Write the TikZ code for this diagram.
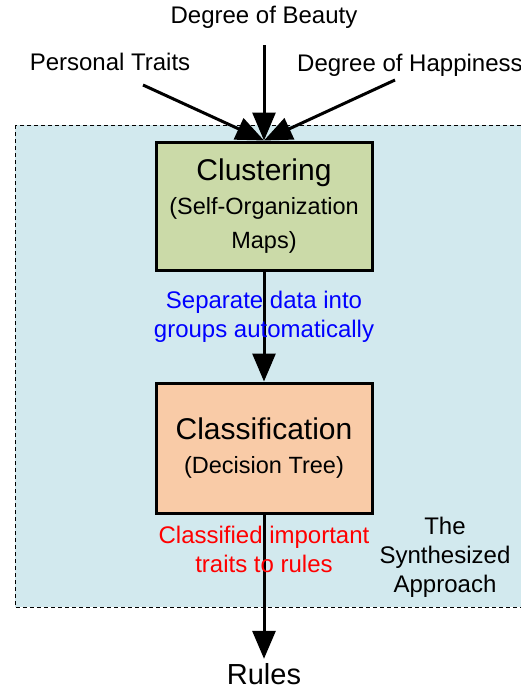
\documentclass[tikz,border=0pt]{standalone}
\usepackage{fontspec}
\setmainfont{Liberation Sans}
\usetikzlibrary{arrows.meta}
\definecolor{bgblue}{RGB}{210,233,238}
\definecolor{clugreen}{RGB}{203,218,168}
\definecolor{claorange}{RGB}{249,203,167}
\tikzset{
  method/.style={
    rectangle,
    minimum width=216pt,
    minimum height=128pt,
    align=center,
    draw=black,
    line width=3pt,
    font=\fontsize{23.5}{34}\selectfont
    },
  lbl/.style={
    align=center,
    inner sep=0pt,
    font=\fontsize{24}{29}\selectfont
    },
  arrow/.style={line width=3pt,-{Triangle[length=28pt,width=23pt]}},
}
\begin{document}
\begin{tikzpicture}[x=1pt, y=-1pt]
  \useasboundingbox (0,0) rectangle (520,688);

  % the dashed region
  \draw[fill=bgblue, dashed, dash pattern=on 4pt off 3pt, line width=0.8pt]
    (15,125) rectangle (535,607);

  \node[method, fill=clugreen] (clu) at (264,206)
    {{\fontsize{30}{34}\selectfont Clustering}\\(Self-Organization\\Maps)};
  \node[method, fill=claorange, minimum height=130pt] (cla) at (264,448)
    {{\fontsize{30}{37}\selectfont Classification}\\(Decision Tree)};

  % inputs
  \node[lbl] (beauty) at (264,17) {Degree of Beauty};
  \node[lbl] (traits) at (110,62) {Personal Traits};
  \node[lbl, anchor=west] (happy) at (297,65) {Degree of Happiness};
  \coordinate (b0) at (264,45);
  \coordinate (t0) at (143,85);
  \coordinate (h0) at (395,80);

  \draw[arrow] (b0) -- (clu.north);
  \draw[arrow] (t0) -- (clu.north);
  \draw[arrow] (h0) -- (clu.north);

  % between the steps
  \draw[arrow] (clu) -- (cla);
  \node[lbl, text=blue] (sep) at (264,317) {Separate data into\\groups automatically};

  % output
  \node[lbl, font=\fontsize{29}{34}\selectfont, anchor=base] (rules) at (264,684) {Rules};
  \draw[arrow] (cla) -- ([yshift=4pt]rules.north);
  \node[lbl, text=red] (cls) at (264,549) {Classified important\\traits to rules};

  \node[lbl] (synth) at (445,557) {The\\Synthesized\\Approach};
\end{tikzpicture}
\end{document}
